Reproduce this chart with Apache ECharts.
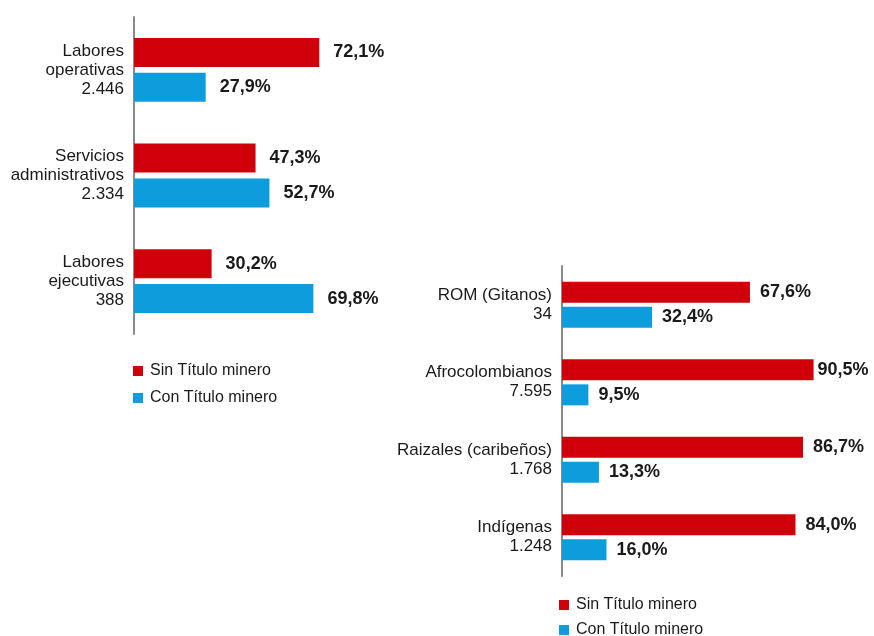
<!DOCTYPE html>
<html>
<head>
<meta charset="utf-8">
<script src="https://cdn.jsdelivr.net/npm/echarts@6/dist/echarts.min.js"></script>
<style>
  html, body { margin: 0; padding: 0; background: #fff; }
  #main { width: 874px; height: 636px; }
</style>
</head>
<body>
<div id="main"></div>
<script>
// datos - ocupación
const catsOcupacion = ['Labores\noperativas\n2.446', 'Servicios\nadministrativos\n2.334', 'Labores\nejecutivas\n388'];
const sinOcupacion = [72.1, 47.3, 30.2];
const conOcupacion = [27.9, 52.7, 69.8];

// datos - grupo étnico
const catsEtnia = ['ROM (Gitanos)\n34', 'Afrocolombianos\n7.595', 'Raizales (caribeños)\n1.768', 'Indígenas\n1.248'];
const sinEtnia = [67.6, 90.5, 86.7, 84.0];
const conEtnia = [32.4, 9.5, 13.3, 16.0];

const seriesNames = ['Sin Título minero', 'Con Título minero'];

const ROJO = '#d0000a';
const AZUL = '#0d9cdc';
const FONT = 'Liberation Sans';

function valLabel(dist) {
  return {
    show: true,
    position: 'right',
    distance: dist,
    fontFamily: FONT,
    fontSize: 18,
    fontWeight: 'bold',
    color: '#1a1a1a',
    formatter: p => p.value.toFixed(1).replace('.', ',') + '%'
  };
}

// la etiqueta de la barra más larga queda pegada a la barra para que quepa
function pegar(arr) {
  return arr.map(v => v > 90 ? { value: v, label: { distance: 4 } } : v);
}

function catAxis(idx, data) {
  return {
    type: 'category',
    gridIndex: idx,
    data: data,
    inverse: true,
    axisLine: { show: true, lineStyle: { color: '#8a8a8a', width: 2 } },
    axisTick: { show: false },
    axisLabel: {
      fontFamily: FONT,
      fontSize: 17,
      lineHeight: 19,
      color: '#1a1a1a',
      margin: 10,
      align: 'right'
    }
  };
}

function valAxis(idx) {
  return {
    type: 'value',
    gridIndex: idx,
    min: 0,
    max: 100,
    show: false,
    splitLine: { show: false }
  };
}

function leyenda(left, top, data) {
  return {
    data: data, orient: 'vertical', left: left, top: top,
    padding: 0,
    itemWidth: 10, itemHeight: 10, itemGap: 11, icon: 'rect',
    textStyle: { fontFamily: FONT, fontSize: 16, lineHeight: 14, color: '#1a1a1a', padding: [0, 0, 0, 2] }
  };
}

let myChart = echarts.init(document.getElementById('main'));
myChart.setOption({
  animation: false,
  backgroundColor: '#fff',
  grid: [
    { left: 134, top: 17, width: 257, height: 317 },
    { left: 562, top: 266, width: 278, height: 310 }
  ],
  xAxis: [valAxis(0), valAxis(1)],
  yAxis: [catAxis(0, catsOcupacion), catAxis(1, catsEtnia)],
  legend: [
    leyenda(133, 363, seriesNames),
    // la leyenda de abajo va partida en dos para que no se acomode en horizontal
    leyenda(559, 597, [seriesNames[0]]),
    leyenda(559, 622, [seriesNames[1]])
  ],
  series: [
    {
      name: seriesNames[0], type: 'bar', xAxisIndex: 0, yAxisIndex: 0,
      data: sinOcupacion, barWidth: 29, barGap: '20%',
      itemStyle: { color: ROJO }, label: valLabel(14)
    },
    {
      name: seriesNames[1], type: 'bar', xAxisIndex: 0, yAxisIndex: 0,
      data: conOcupacion, barWidth: 29, barGap: '20%',
      itemStyle: { color: AZUL }, label: valLabel(14)
    },
    {
      name: seriesNames[0], type: 'bar', xAxisIndex: 1, yAxisIndex: 1,
      data: pegar(sinEtnia), barWidth: 21, barGap: '20%',
      itemStyle: { color: ROJO }, label: valLabel(10)
    },
    {
      name: seriesNames[1], type: 'bar', xAxisIndex: 1, yAxisIndex: 1,
      data: pegar(conEtnia), barWidth: 21, barGap: '20%',
      itemStyle: { color: AZUL }, label: valLabel(10)
    }
  ]
});
</script>
</body>
</html>
